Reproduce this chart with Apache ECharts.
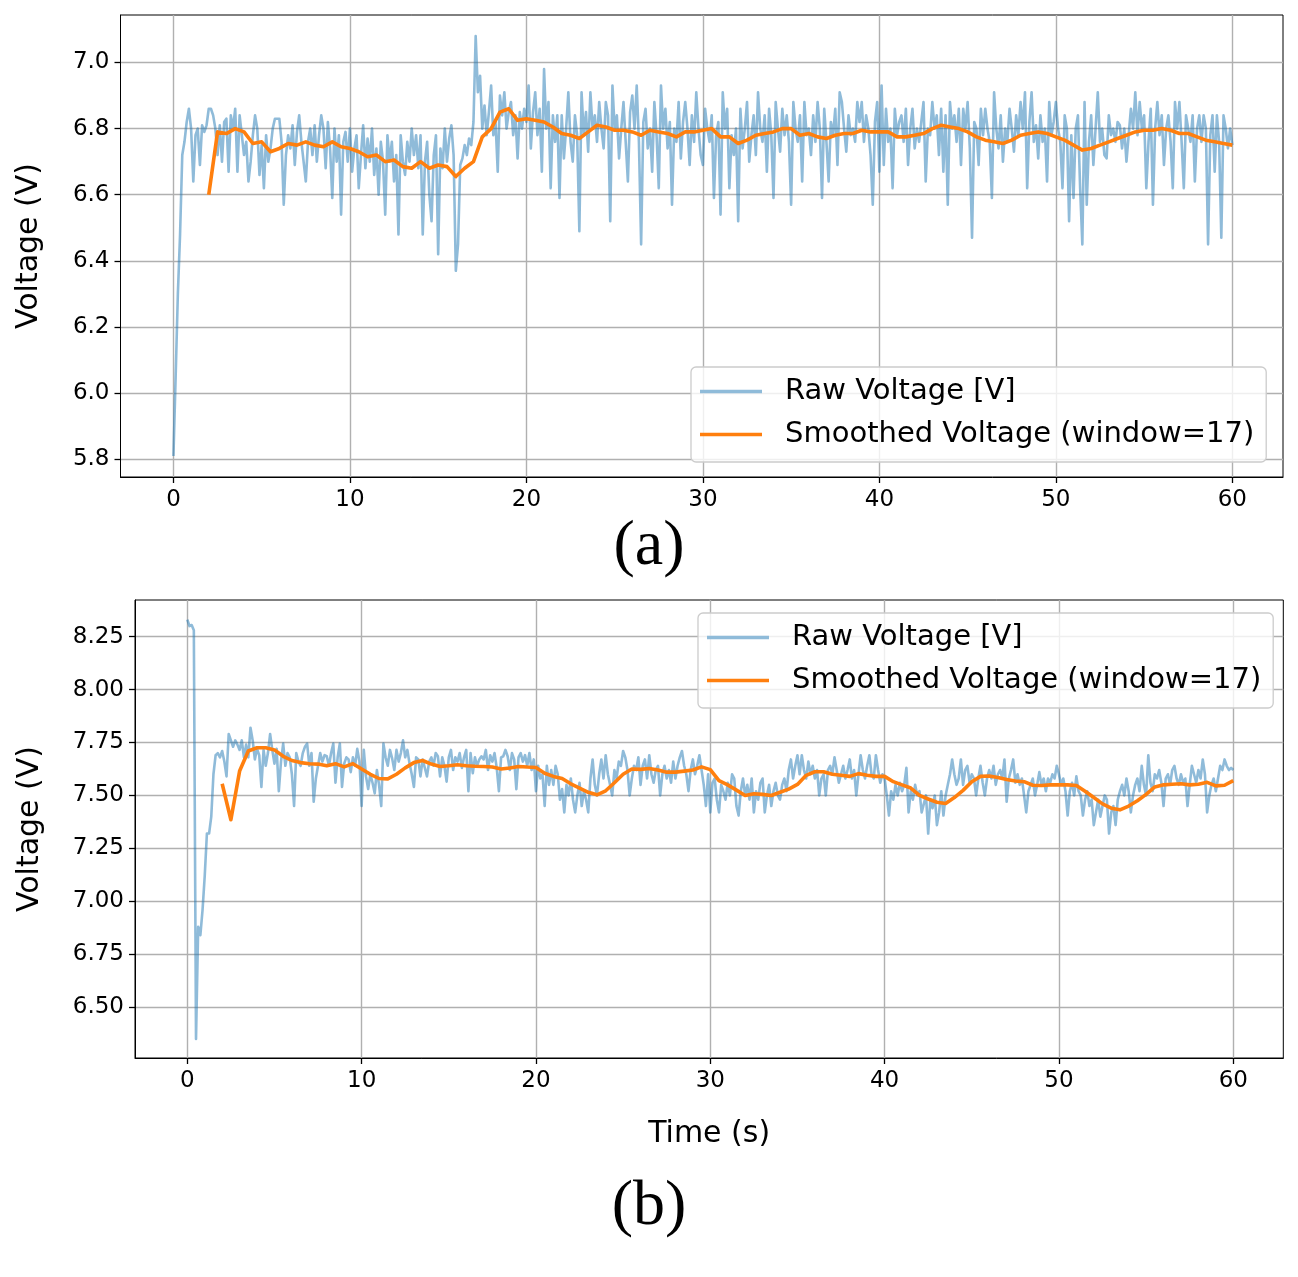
<!DOCTYPE html>
<html>
<head>
<meta charset="utf-8">
<script src="https://cdn.jsdelivr.net/npm/echarts@6/dist/echarts.min.js"></script>
<style>
html,body{margin:0;padding:0;background:#fff;}
#chart{width:1298px;height:1277px;}
</style>
</head>
<body>
<div id="chart"></div>
<script>
// ---------- data ----------
const RAW_DT = 0.125;          // raw sampling step (s)
const SMOOTH_T0 = 2.0;         // first smoothed sample time (s)
const SMOOTH_DT = 0.5;         // smoothed sampling step (s)

const xTicks = [0, 10, 20, 30, 40, 50, 60];
const yTicksA = [5.8, 6.0, 6.2, 6.4, 6.6, 6.8, 7.0];
const yTicksB = [6.5, 6.75, 7.0, 7.25, 7.5, 7.75, 8.0, 8.25];

const seriesNames = ['Raw Voltage [V]', 'Smoothed Voltage (window=17)'];

const rawA = [
5.81,6.05,6.30,6.48,6.72,6.76,6.82,6.86,
6.80,6.64,6.78,6.80,6.69,6.81,6.79,6.81,
6.86,6.86,6.84,6.80,6.72,6.81,6.70,6.82,
6.83,6.67,6.84,6.80,6.86,6.67,6.84,6.78,
6.72,6.76,6.64,6.70,6.78,6.84,6.80,6.66,
6.75,6.62,6.78,6.70,6.74,6.80,6.83,6.83,
6.83,6.76,6.57,6.72,6.78,6.74,6.81,6.69,
6.79,6.84,6.76,6.70,6.64,6.76,6.80,6.72,
6.81,6.70,6.78,6.84,6.80,6.68,6.82,6.74,
6.59,6.80,6.70,6.78,6.54,6.76,6.79,6.70,
6.80,6.67,6.74,6.78,6.62,6.72,6.81,6.68,
6.77,6.70,6.80,6.66,6.74,6.60,6.76,6.70,
6.54,6.78,6.70,6.76,6.64,6.72,6.48,6.78,
6.70,6.66,6.76,6.70,6.80,6.72,6.78,6.68,
6.78,6.48,6.70,6.76,6.60,6.52,6.72,6.78,
6.42,6.74,6.68,6.80,6.70,6.77,6.81,6.72,
6.37,6.45,6.69,6.71,6.75,6.72,6.77,6.75,
6.82,7.08,6.91,6.96,6.80,6.87,6.78,6.85,
6.93,6.78,6.82,6.67,6.90,6.84,6.91,6.80,
6.85,6.88,6.78,6.84,6.71,6.85,6.80,6.86,
6.82,6.93,6.74,6.85,6.91,6.78,6.86,6.67,
6.98,6.80,6.88,6.62,6.84,6.76,6.84,6.59,
6.84,6.71,6.80,6.91,6.76,6.70,6.84,6.78,
6.49,6.91,6.78,6.85,6.73,6.91,6.80,6.84,
6.76,6.88,6.80,6.74,6.88,6.84,6.52,6.93,
6.80,6.84,6.71,6.80,6.88,6.76,6.64,6.85,
6.90,6.80,6.93,6.76,6.45,6.82,6.86,6.74,
6.80,6.67,6.88,6.78,6.62,6.93,6.80,6.86,
6.74,6.82,6.57,6.80,6.76,6.88,6.71,6.82,
6.88,6.80,6.69,6.84,6.76,6.91,6.80,6.72,
6.69,6.86,6.80,6.76,6.84,6.59,6.78,6.82,
6.54,6.91,6.80,6.86,6.62,6.78,6.72,6.80,
6.52,6.86,6.74,6.80,6.88,6.70,6.78,6.84,
6.72,6.91,6.80,6.76,6.84,6.67,6.86,6.78,
6.59,6.88,6.80,6.73,6.86,6.78,6.84,6.76,
6.57,6.88,6.80,6.76,6.84,6.64,6.88,6.78,
6.80,6.72,6.84,6.76,6.88,6.80,6.59,6.86,
6.76,6.64,6.82,6.78,6.86,6.69,6.91,6.88,
6.80,6.73,6.84,6.78,6.80,6.76,6.88,6.82,
6.88,6.76,6.84,6.80,6.72,6.57,6.82,6.88,
6.67,6.93,6.69,6.86,6.76,6.80,6.62,6.86,
6.78,6.82,6.84,6.76,6.86,6.69,6.80,6.86,
6.74,6.80,6.76,6.82,6.88,6.64,6.80,6.78,
6.88,6.80,6.84,6.72,6.86,6.67,6.84,6.57,
6.88,6.80,6.84,6.76,6.86,6.69,6.86,6.80,
6.88,6.74,6.47,6.82,6.80,6.69,6.86,6.78,
6.86,6.80,6.76,6.59,6.91,6.80,6.74,6.84,
6.70,6.80,6.76,6.86,6.80,6.73,6.84,6.78,
6.88,6.80,6.91,6.62,6.82,6.91,6.76,6.81,
6.71,6.84,6.76,6.80,6.64,6.88,6.78,6.82,
6.88,6.80,6.76,6.62,6.84,6.80,6.52,6.78,
6.59,6.80,6.84,6.62,6.45,6.88,6.57,6.76,
6.84,6.69,6.80,6.91,6.76,6.80,6.72,6.71,
6.84,6.78,6.80,6.76,6.82,6.81,6.74,6.80,
6.70,6.78,6.86,6.80,6.91,6.78,6.88,6.80,
6.84,6.62,6.76,6.86,6.57,6.80,6.88,6.78,
6.84,6.69,6.80,6.84,6.76,6.62,6.88,6.80,
6.88,6.76,6.62,6.84,6.80,6.76,6.84,6.64,
6.80,6.84,6.76,6.84,6.80,6.45,6.78,6.84,
6.67,6.84,6.76,6.47,6.84,6.80,6.74,6.80,
6.75
];

const smoothA = [
6.60,6.79,6.785,6.80,6.79,6.755,6.76,6.73,6.74,6.755,
6.75,6.76,6.75,6.745,6.76,6.745,6.74,6.73,6.715,6.72,
6.70,6.705,6.685,6.68,6.70,6.68,6.69,6.685,6.655,6.68,
6.70,6.775,6.80,6.85,6.86,6.825,6.83,6.825,6.82,6.805,
6.785,6.78,6.77,6.79,6.81,6.805,6.795,6.795,6.79,6.78,
6.795,6.79,6.785,6.775,6.79,6.79,6.795,6.80,6.775,6.775,
6.755,6.765,6.78,6.785,6.79,6.80,6.80,6.78,6.785,6.775,
6.77,6.78,6.785,6.785,6.795,6.79,6.79,6.79,6.775,6.775,
6.78,6.785,6.80,6.81,6.805,6.80,6.79,6.775,6.765,6.76,
6.755,6.765,6.78,6.785,6.79,6.785,6.775,6.765,6.75,6.735,
6.74,6.75,6.76,6.77,6.78,6.79,6.795,6.795,6.80,6.795,
6.785,6.785,6.775,6.765,6.76,6.755,6.75
];

const rawB = [
8.33,8.30,8.305,8.28,6.35,6.88,6.84,6.96,
7.12,7.32,7.32,7.40,7.60,7.69,7.70,7.68,
7.71,7.66,7.59,7.79,7.76,7.73,7.76,7.74,
7.715,7.76,7.68,7.74,7.68,7.82,7.76,7.67,
7.72,7.69,7.54,7.715,7.64,7.70,7.79,7.715,
7.65,7.72,7.52,7.66,7.745,7.64,7.70,7.68,
7.60,7.45,7.70,7.66,7.64,7.70,7.73,7.745,
7.64,7.70,7.47,7.58,7.64,7.70,7.66,7.69,
7.685,7.64,7.70,7.745,7.56,7.68,7.745,7.54,
7.65,7.68,7.67,7.61,7.68,7.64,7.72,7.66,
7.45,7.715,7.59,7.53,7.60,7.56,7.51,7.62,
7.55,7.45,7.745,7.68,7.64,7.715,7.675,7.62,
7.715,7.66,7.70,7.76,7.68,7.715,7.65,7.60,
7.54,7.68,7.67,7.59,7.67,7.63,7.59,7.66,
7.68,7.64,7.70,7.685,7.59,7.68,7.64,7.565,
7.68,7.715,7.62,7.68,7.66,7.70,7.63,7.68,
7.715,7.52,7.70,7.605,7.68,7.64,7.67,7.685,
7.67,7.715,7.62,7.69,7.66,7.70,7.63,7.52,
7.68,7.685,7.715,7.685,7.62,7.70,7.67,7.53,
7.68,7.70,7.66,7.69,7.64,7.70,7.62,7.67,
7.52,7.64,7.58,7.60,7.45,7.64,7.55,7.62,
7.55,7.64,7.60,7.48,7.53,7.42,7.55,7.50,
7.58,7.48,7.42,7.50,7.56,7.45,7.52,7.48,
7.42,7.58,7.67,7.55,7.50,7.60,7.67,7.58,
7.69,7.60,7.55,7.50,7.62,7.58,7.66,7.64,
7.71,7.68,7.62,7.50,7.58,7.64,7.62,7.68,
7.55,7.64,7.67,7.58,7.69,7.60,7.56,7.62,
7.64,7.50,7.60,7.64,7.58,7.62,7.56,7.66,
7.58,7.64,7.68,7.71,7.64,7.60,7.52,7.62,
7.67,7.60,7.64,7.69,7.62,7.55,7.45,7.60,
7.42,7.56,7.58,7.48,7.42,7.55,7.52,7.48,
7.56,7.50,7.60,7.58,7.45,7.405,7.52,7.58,
7.50,7.55,7.48,7.58,7.42,7.52,7.48,7.56,
7.58,7.42,7.50,7.55,7.45,7.52,7.56,7.50,
7.48,7.55,7.58,7.52,7.62,7.67,7.58,7.64,
7.69,7.60,7.69,7.62,7.58,7.66,7.60,7.64,
7.58,7.62,7.50,7.58,7.60,7.50,7.62,7.64,
7.60,7.68,7.62,7.56,7.60,7.64,7.58,7.62,
7.67,7.58,7.62,7.50,7.60,7.69,7.62,7.58,
7.64,7.69,7.60,7.58,7.69,7.62,7.56,7.60,
7.58,7.50,7.405,7.52,7.48,7.55,7.50,7.56,
7.52,7.55,7.63,7.42,7.52,7.48,7.55,7.50,
7.52,7.42,7.46,7.50,7.32,7.48,7.44,7.50,
7.36,7.42,7.52,7.405,7.50,7.55,7.60,7.67,
7.60,7.55,7.58,7.67,7.55,7.62,7.64,7.56,
7.60,7.58,7.50,7.58,7.64,7.56,7.50,7.58,
7.62,7.58,7.64,7.55,7.60,7.62,7.58,7.67,
7.47,7.58,7.62,7.67,7.56,7.60,7.55,7.58,
7.50,7.42,7.52,7.55,7.58,7.50,7.55,7.61,
7.55,7.58,7.52,7.58,7.56,7.60,7.58,7.64,
7.60,7.55,7.58,7.52,7.405,7.52,7.56,7.50,
7.59,7.52,7.50,7.405,7.48,7.52,7.45,7.48,
7.36,7.42,7.48,7.40,7.45,7.50,7.48,7.32,
7.42,7.45,7.36,7.48,7.52,7.55,7.50,7.58,
7.52,7.42,7.50,7.55,7.58,7.52,7.64,7.55,
7.50,7.69,7.56,7.52,7.60,7.58,7.62,7.56,
7.45,7.58,7.60,7.55,7.62,7.64,7.58,7.55,
7.60,7.56,7.58,7.45,7.55,7.64,7.60,7.56,
7.62,7.58,7.67,7.60,7.42,7.50,7.55,7.58,
7.52,7.58,7.64,7.62,7.67,7.64,7.62,7.63,
7.62
];

const smoothB = [
7.555,7.385,7.615,7.71,7.725,7.725,7.715,7.685,7.665,7.655,
7.65,7.648,7.64,7.65,7.635,7.65,7.625,7.60,7.58,7.578,
7.60,7.63,7.655,7.665,7.648,7.637,7.64,7.645,7.64,7.638,
7.637,7.634,7.625,7.63,7.637,7.634,7.632,7.605,7.59,7.58,
7.555,7.535,7.515,7.503,7.522,7.56,7.60,7.625,7.623,7.627,
7.62,7.61,7.61,7.615,7.62,7.635,7.622,7.57,7.55,7.525,
7.50,7.508,7.505,7.50,7.515,7.53,7.552,7.595,7.612,7.612,
7.60,7.595,7.59,7.603,7.595,7.59,7.59,7.565,7.55,7.535,
7.50,7.483,7.468,7.462,7.49,7.524,7.565,7.59,7.592,7.585,
7.575,7.568,7.565,7.548,7.547,7.55,7.55,7.55,7.547,7.52,
7.49,7.46,7.44,7.432,7.45,7.475,7.505,7.54,7.55,7.553,
7.555,7.55,7.553,7.562,7.545,7.548,7.57
];

// ---------- build ----------
const toRawPts = arr => arr.map((v, i) => [i * RAW_DT, v]);
const toSmoothPts = arr => arr.map((v, i) => [SMOOTH_T0 + i * SMOOTH_DT, v]);

const BLUE = '#1f77b4', BLUE_LEG = '#8fbbd9', ORANGE = '#ff7f0e';
const TICK_FONT = 23, NAME_FONT = 30, LEGEND_FONT = 29;
const FONT = 'DejaVu Sans';

function xAxisCfg(gi, showName) {
  return {
    type: 'value', gridIndex: gi, min: -3, max: 62.87,
    name: showName ? 'Time (s)' : '',
    nameLocation: 'middle', nameGap: 61,
    nameTextStyle: { fontFamily: FONT, fontSize: NAME_FONT, color: '#000' },
    axisLine: { show: true, onZero: false, lineStyle: { color: '#000', width: 1 } },
    axisTick: { show: true, customValues: xTicks, length: 6, lineStyle: { color: '#000', width: 1.3 } },
    axisLabel: { customValues: xTicks, fontFamily: FONT, fontSize: TICK_FONT, color: '#000', margin: 12 },
    splitLine: { show: true, lineStyle: { color: '#b0b0b0', width: 1.4 } }
  };
}
function yAxisCfg(gi, min, max, ticks, dec, gap) {
  return {
    type: 'value', gridIndex: gi, min: min, max: max,
    name: 'Voltage (V)', nameLocation: 'middle', nameGap: gap, nameRotate: 90,
    nameTextStyle: { fontFamily: FONT, fontSize: NAME_FONT, color: '#000' },
    axisLine: { show: true, onZero: false, lineStyle: { color: '#000', width: 1 } },
    axisTick: { show: true, customValues: ticks, length: 6, lineStyle: { color: '#000', width: 1.3 } },
    axisLabel: { customValues: ticks, fontFamily: FONT, fontSize: TICK_FONT, color: '#000', margin: 11,
      formatter: v => Number(v).toFixed(dec) },
    splitLine: { show: true, lineStyle: { color: '#b0b0b0', width: 1.4 } }
  };
}
function legendCfg(left, top) {
  return {
    orient: 'vertical', left: left, top: top,
    data: [
      { name: seriesNames[0], itemStyle: { color: BLUE_LEG } },
      { name: seriesNames[1], itemStyle: { color: ORANGE } }
    ],
    icon: 'rect', itemWidth: 62, itemHeight: 3.5, itemGap: 10,
    padding: [8, 12, 11, 9],
    backgroundColor: 'rgba(255,255,255,0.8)',
    borderColor: '#cccccc', borderWidth: 1.3, borderRadius: 5,
    selectedMode: false,
    textStyle: { fontFamily: FONT, fontSize: LEGEND_FONT, color: '#000', lineHeight: 33, padding: [0, 0, 0, 18] }
  };
}
function lineSeries(name, data, gi, color, width, opacity, z) {
  return {
    type: 'line', name: name, data: data, xAxisIndex: gi, yAxisIndex: gi,
    showSymbol: false, symbol: 'none', smooth: false, z: z,
    itemStyle: { color: color },
    lineStyle: { color: color, width: width, opacity: opacity, join: 'round' }
  };
}

const chart = echarts.init(document.getElementById('chart'), null, { renderer: 'canvas' });
chart.setOption({
  animation: false,
  backgroundColor: '#ffffff',
  title: [
    { text: '(a)', left: 'center', top: 510,
      textStyle: { fontFamily: 'Liberation Serif', fontSize: 64, fontWeight: 'normal', color: '#000' } },
    { text: '(b)', left: 'center', top: 1170,
      textStyle: { fontFamily: 'Liberation Serif', fontSize: 64, fontWeight: 'normal', color: '#000' } }
  ],
  grid: [
    { left: 120.5, top: 15, width: 1162.5, height: 462, show: true, borderColor: '#000', borderWidth: 1, backgroundColor: 'transparent' },
    { left: 135, top: 600, width: 1148.3, height: 458, show: true, borderColor: '#000', borderWidth: 1, backgroundColor: 'transparent' }
  ],
  xAxis: [xAxisCfg(0, false), xAxisCfg(1, true)],
  yAxis: [
    yAxisCfg(0, 5.7465, 7.1435, yTicksA, 1, 76),
    yAxisCfg(1, 6.26, 8.423, yTicksB, 2, 90)
  ],
  legend: [legendCfg(691, 367), legendCfg(698, 613)],
  series: [
    lineSeries(seriesNames[0], toRawPts(rawA), 0, BLUE, 2.6, 0.5, 2),
    lineSeries(seriesNames[1], toSmoothPts(smoothA), 0, ORANGE, 3.6, 1, 3),
    lineSeries(seriesNames[0], toRawPts(rawB), 1, BLUE, 2.6, 0.5, 2),
    lineSeries(seriesNames[1], toSmoothPts(smoothB), 1, ORANGE, 3.6, 1, 3)
  ]
});
</script>
</body>
</html>
